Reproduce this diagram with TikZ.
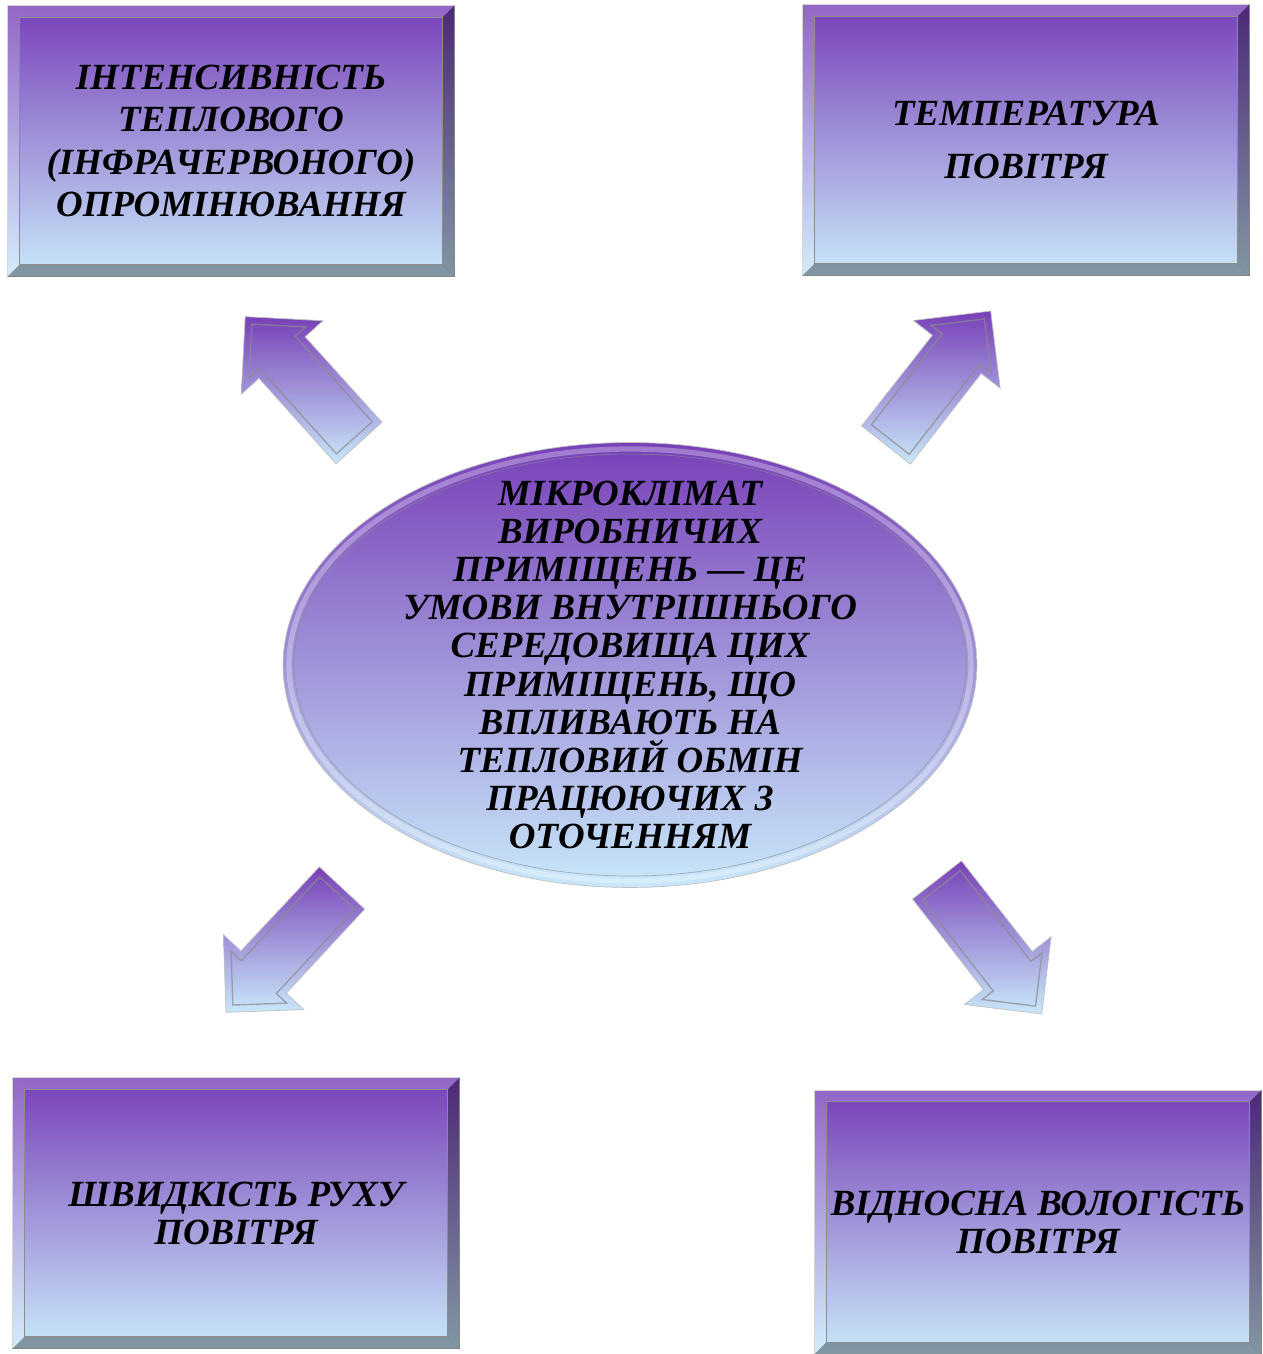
\documentclass[tikz,border=0pt]{standalone}
\usepackage{fontspec}
\setmainfont{Liberation Serif}
\usetikzlibrary{shapes.geometric,calc}

\definecolor{vtop}{RGB}{120,64,184}
\definecolor{vbot}{RGB}{200,232,250}

\begin{document}
\begin{tikzpicture}[x=0.02cm,y=-0.02cm,
  font=\bfseries\itshape,
  box/.style={rectangle,top color=vtop,bottom color=vbot,draw=gray!40,minimum width=8.94cm,minimum height=5.42cm,inner sep=0pt,align=center},
  oval/.style={ellipse,top color=vtop,bottom color=vbot,draw=gray!50,minimum width=13.88cm,minimum height=8.9cm,inner xsep=0pt,inner ysep=-20pt,align=center},
  bevdark/.style={fill=black,fill opacity=0.35},
  bevlite/.style={fill=white,fill opacity=0.2},
  arr/.style={top color=vtop,bottom color=vbot,draw=gray!50},
  arrin/.style={draw=black!45,line width=0.8pt,draw opacity=0.7}]
\useasboundingbox (0,0) rectangle (1262,1354);
% boxes
\node[box,font=\fontsize{21}{24}\selectfont\bfseries\itshape](intens) at(231,141){ІНТЕНСИВНІСТЬ\\ТЕПЛОВОГО\\(ІНФРАЧЕРВОНОГО)\\ОПРОМІНЮВАННЯ};
\node[box,font=\fontsize{21}{30}\selectfont\bfseries\itshape](temp) at(1026,140){ТЕМПЕРАТУРА\\ПОВІТРЯ};
\node[box,font=\fontsize{21}{21.6}\selectfont\bfseries\itshape](speed) at(236,1213){ШВИДКІСТЬ РУХУ\\ПОВІТРЯ};
\node[box,minimum height=5.28cm,font=\fontsize{21}{21.6}\selectfont\bfseries\itshape](humid) at(1038,1222){ВІДНОСНА ВОЛОГІСТЬ\\ПОВІТРЯ};
\foreach \n in {intens,temp,speed,humid}{
  \fill[bevdark](\n.north east)--(\n.south east)--($(\n.south east)+(-12,-12)$)--($(\n.north east)+(-12,12)$)--cycle;
  \fill[bevdark](\n.south west)--(\n.south east)--($(\n.south east)+(-12,-12)$)--($(\n.south west)+(12,-12)$)--cycle;
  \fill[bevlite](\n.north west)--(\n.north east)--($(\n.north east)+(-12,12)$)--($(\n.north west)+(12,12)$)--cycle;
  \fill[bevlite](\n.north west)--(\n.south west)--($(\n.south west)+(12,-12)$)--($(\n.north west)+(12,12)$)--cycle;
  \draw[black!45]($(\n.north west)+(12,12)$)rectangle($(\n.south east)+(-12,-12)$);
}
% centre
\node[oval,font=\fontsize{21}{21.7}\selectfont\bfseries\itshape](micro) at(630,665){МІКРОКЛІМАТ\\ВИРОБНИЧИХ\\ПРИМІЩЕНЬ — ЦЕ\\УМОВИ ВНУТРІШНЬОГО\\СЕРЕДОВИЩА ЦИХ\\ПРИМІЩЕНЬ, ЩО\\ВПЛИВАЮТЬ НА\\ТЕПЛОВИЙ ОБМІН\\ПРАЦЮЮЧИХ З\\ОТОЧЕННЯМ};
\draw[white,line width=3pt,opacity=0.3](micro.center)ellipse[x radius=341,y radius=216];
\draw[black!45,draw opacity=0.6](micro.center)ellipse[x radius=336,y radius=211];
% arrows
\foreach \x/\y/\a in {359/443/132,886/445/52,342/888/227,937/880/-52}{
  \shade[arr,shift={(\x,\y)},rotate=\a](0,-31)--(115,-31)--(115,-55)--(170,0)--(115,55)--(115,31)--(0,31)--cycle;
  \draw[arrin,shift={(\x,\y)},rotate=\a](7,-24)--(122,-24)--(122,-38)--(160,0)--(122,38)--(122,24)--(7,24)--cycle;
}
\end{tikzpicture}
\end{document}
